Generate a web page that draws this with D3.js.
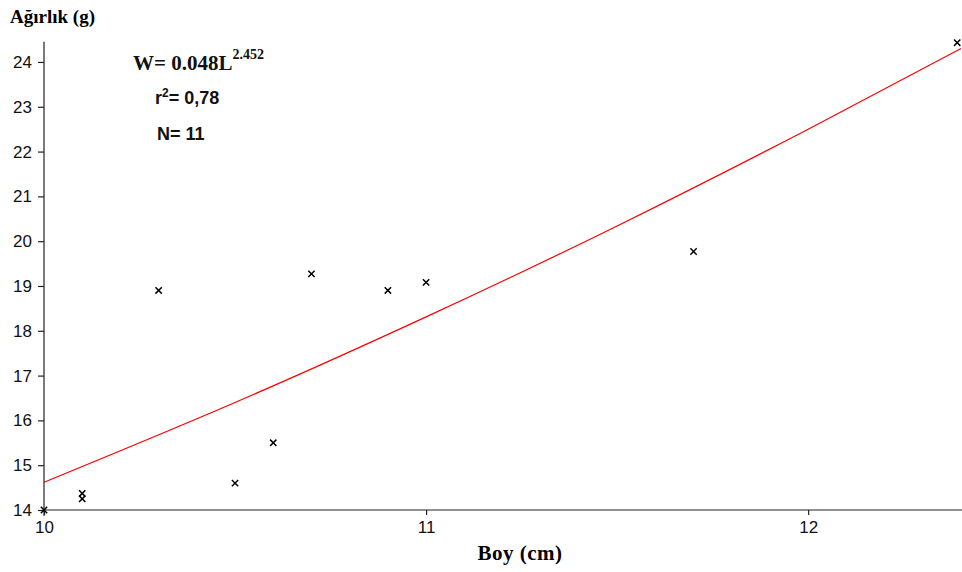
<!DOCTYPE html>
<html>
<head>
  <meta charset="utf-8">
  <title>Boy - Ağırlık</title>
  <style>
    body { margin: 0; background: #fff; }
    .tick text { font-family: "Liberation Sans", Arial, sans-serif; font-size: 17px; fill: #111; }
    .domain, .tick line { stroke: #222; stroke-width: 1.2px; }
  </style>
</head>
<body>
  <svg></svg>
  <script src="https://cdnjs.cloudflare.com/ajax/libs/d3/7.8.5/d3.min.js"></script>
  <script>
    var width = 962,
      height = 572;

    // measured points (boy in cm, ağırlık in g)
    var boy = [10.0, 10.1, 10.1, 10.3, 10.5, 10.6, 10.7, 10.9, 11.0, 11.7, 12.39];
    var agirlik = [14.0, 14.37, 14.25, 18.9, 14.6, 15.5, 19.27, 18.9, 19.08, 19.77, 24.43];

    // regression curve
    var curveBoy = [10.0, 10.5, 11.0, 11.5, 12.0, 12.4];
    var curveAgirlik = [14.62, 16.4, 18.31, 20.34, 22.5, 24.3];

    var xTicks = [10, 11, 12];
    var yTicks = [14, 15, 16, 17, 18, 19, 20, 21, 22, 23, 24];

    var svg = d3.select("svg").attr("width", width).attr("height", height);

    var x = d3.scaleLinear().domain([10, 12.4]).range([44, 961]);
    var y = d3.scaleLinear().domain([14, 24.45]).range([510, 41.8]);

    // y axis
    var yAxis = svg.append("g")
      .attr("transform", "translate(44,0)")
      .call(d3.axisLeft(y).tickValues(yTicks).tickFormat(d3.format("d"))
        .tickSize(6).tickSizeOuter(0).tickPadding(6));
    yAxis.select(".domain").attr("d", "M0," + y.range()[1] + "V" + (y(14) + 6));

    // x axis
    var xAxis = svg.append("g")
      .attr("transform", "translate(0," + y(14) + ")")
      .call(d3.axisBottom(x).tickValues(xTicks).tickFormat(d3.format("d"))
        .tickSize(5).tickSizeOuter(0).tickPadding(6));
    xAxis.select(".domain").attr("d", "M44,0H962");

    // fitted curve
    var line = d3.line()
      .x(function (d, i) { return x(curveBoy[i]); })
      .y(function (d) { return y(d); })
      .curve(d3.curveNatural);
    svg.append("path")
      .datum(curveAgirlik)
      .attr("d", line)
      .style("fill", "none")
      .style("stroke", "#ff0000")
      .style("stroke-width", 1.2);

    // points as small crosses
    var sym = d3.symbol().type(d3.symbolX).size(28);
    svg.selectAll("path.pt").data(boy)
      .enter()
      .append("path")
      .attr("class", "pt")
      .attr("d", sym)
      .attr("transform", function (d, i) { return "translate(" + x(d) + "," + y(agirlik[i]) + ")"; })
      .style("fill", "none")
      .style("stroke", "#000")
      .style("stroke-width", 1.5);

    // axis titles
    svg.append("text")
      .attr("x", 10).attr("y", 23)
      .style("font-family", "'Liberation Serif', 'Times New Roman', serif")
      .style("font-weight", "bold")
      .style("font-size", "19px")
      .text("Ağırlık (g)");

    svg.append("text")
      .attr("x", 520).attr("y", 560)
      .attr("text-anchor", "middle")
      .style("font-family", "'Liberation Serif', 'Times New Roman', serif")
      .style("font-weight", "bold")
      .style("font-size", "21px")
      .style("letter-spacing", "0.5px")
      .text("Boy (cm)");

    // equation box
    var eq = svg.append("text")
      .attr("x", 133).attr("y", 70)
      .style("font-family", "'Liberation Serif', 'Times New Roman', serif")
      .style("font-weight", "bold")
      .style("font-size", "21px")
      .style("fill", "#111");
    eq.append("tspan").text("W= 0.048L");
    eq.append("tspan").attr("dy", -11).style("font-size", "14px").text("2.452");

    var r2 = svg.append("text")
      .attr("x", 155).attr("y", 104)
      .style("font-family", "'Liberation Sans', Arial, sans-serif")
      .style("font-weight", "bold")
      .style("font-size", "18px")
      .style("fill", "#111");
    r2.append("tspan").text("r");
    r2.append("tspan").attr("dy", -7).style("font-size", "12px").text("2");
    r2.append("tspan").attr("dy", 7).text("= 0,78");

    svg.append("text")
      .attr("x", 157).attr("y", 140)
      .style("font-family", "'Liberation Sans', Arial, sans-serif")
      .style("font-weight", "bold")
      .style("font-size", "18px")
      .style("fill", "#111")
      .text("N= 11");
  </script>
</body>
</html>
